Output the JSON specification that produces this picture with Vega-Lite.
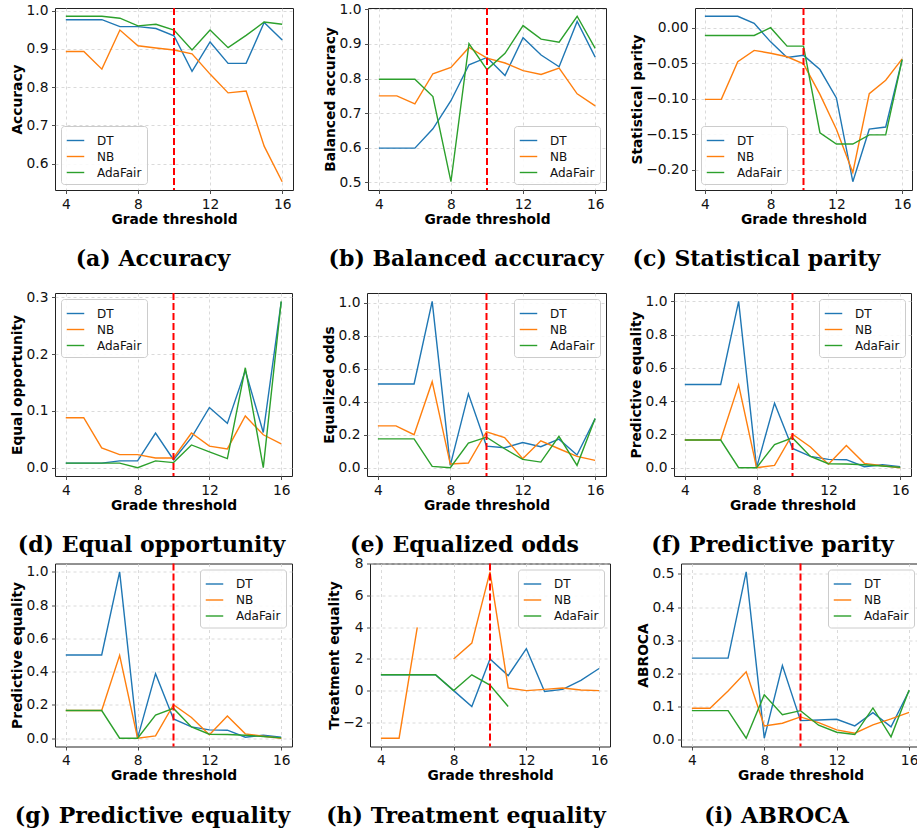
{
"$schema":"https://vega.github.io/schema/vega-lite/v6.json",
"padding":{"left":10,"top":1,"right":0,"bottom":0},
"background":"white",
"config":{
 "view":{"stroke":"#222","strokeWidth":1},
 "axis":{"labelFont":"DejaVu Sans","labelFontSize":13.8,"labelColor":"#111","titleFont":"DejaVu Sans","titleFontSize":13.8,"titleFontWeight":"bold","titleColor":"#000","domain":false,"tickColor":"#222","tickSize":3.5,"tickWidth":0.8,"gridColor":"#d0d0d0","gridDash":[3,3],"gridWidth":0.8,"labelPadding":3.5,"titlePadding":1.5},
 "legend":{"labelFont":"DejaVu Sans","labelFontSize":12,"labelColor":"#111","symbolType":"stroke","symbolStrokeWidth":1.5,"symbolSize":306,"labelOffset":12,"padding":5,"rowPadding":0,"strokeColor":"#cccccc","fillColor":"rgba(255,255,255,0.85)","cornerRadius":3,"offset":6,"title":null},
 "title":{"font":"DejaVu Serif","fontSize":22,"fontWeight":"bold","color":"#000","orient":"bottom","frame":"group","offset":23,"baseline":"alphabetic","anchor":"middle"},
 "line":{"strokeWidth":1.4}
},
"data":{"values":[
{"m":"acc","g":4,"DT":0.976,"NB":0.893,"AdaFair":0.985},
{"m":"acc","g":5,"DT":0.976,"NB":0.893,"AdaFair":0.985},
{"m":"acc","g":6,"DT":0.976,"NB":0.847,"AdaFair":0.985},
{"m":"acc","g":7,"DT":0.958,"NB":0.949,"AdaFair":0.980},
{"m":"acc","g":8,"DT":0.958,"NB":0.908,"AdaFair":0.960},
{"m":"acc","g":9,"DT":0.953,"NB":0.902,"AdaFair":0.964},
{"m":"acc","g":10,"DT":0.934,"NB":0.897,"AdaFair":0.949},
{"m":"acc","g":11,"DT":0.841,"NB":0.887,"AdaFair":0.897},
{"m":"acc","g":12,"DT":0.918,"NB":0.834,"AdaFair":0.949},
{"m":"acc","g":13,"DT":0.862,"NB":0.785,"AdaFair":0.903},
{"m":"acc","g":14,"DT":0.862,"NB":0.790,"AdaFair":0.935},
{"m":"acc","g":15,"DT":0.969,"NB":0.646,"AdaFair":0.970},
{"m":"acc","g":16,"DT":0.923,"NB":0.553,"AdaFair":0.964},
{"m":"bacc","g":4,"DT":0.599,"NB":0.750,"AdaFair":0.798},
{"m":"bacc","g":5,"DT":0.599,"NB":0.750,"AdaFair":0.798},
{"m":"bacc","g":6,"DT":0.599,"NB":0.727,"AdaFair":0.798},
{"m":"bacc","g":7,"DT":0.655,"NB":0.814,"AdaFair":0.748},
{"m":"bacc","g":8,"DT":0.736,"NB":0.832,"AdaFair":0.502},
{"m":"bacc","g":9,"DT":0.840,"NB":0.890,"AdaFair":0.901},
{"m":"bacc","g":10,"DT":0.861,"NB":0.859,"AdaFair":0.826},
{"m":"bacc","g":11,"DT":0.809,"NB":0.845,"AdaFair":0.873},
{"m":"bacc","g":12,"DT":0.918,"NB":0.823,"AdaFair":0.953},
{"m":"bacc","g":13,"DT":0.868,"NB":0.812,"AdaFair":0.914},
{"m":"bacc","g":14,"DT":0.834,"NB":0.830,"AdaFair":0.905},
{"m":"bacc","g":15,"DT":0.965,"NB":0.756,"AdaFair":0.980},
{"m":"bacc","g":16,"DT":0.862,"NB":0.721,"AdaFair":0.887},
{"m":"sp","g":4,"DT":0.016,"NB":-0.101,"AdaFair":-0.011},
{"m":"sp","g":5,"DT":0.016,"NB":-0.101,"AdaFair":-0.011},
{"m":"sp","g":6,"DT":0.016,"NB":-0.048,"AdaFair":-0.011},
{"m":"sp","g":7,"DT":0.006,"NB":-0.032,"AdaFair":-0.011},
{"m":"sp","g":8,"DT":-0.020,"NB":-0.036,"AdaFair":0.000},
{"m":"sp","g":9,"DT":-0.042,"NB":-0.041,"AdaFair":-0.026},
{"m":"sp","g":10,"DT":-0.039,"NB":-0.051,"AdaFair":-0.026},
{"m":"sp","g":11,"DT":-0.059,"NB":-0.094,"AdaFair":-0.148},
{"m":"sp","g":12,"DT":-0.099,"NB":-0.143,"AdaFair":-0.164},
{"m":"sp","g":13,"DT":-0.217,"NB":-0.204,"AdaFair":-0.164},
{"m":"sp","g":14,"DT":-0.143,"NB":-0.093,"AdaFair":-0.151},
{"m":"sp","g":15,"DT":-0.140,"NB":-0.074,"AdaFair":-0.151},
{"m":"sp","g":16,"DT":-0.045,"NB":-0.044,"AdaFair":-0.045},
{"m":"eo","g":4,"DT":0.008,"NB":0.088,"AdaFair":0.008},
{"m":"eo","g":5,"DT":0.008,"NB":0.088,"AdaFair":0.008},
{"m":"eo","g":6,"DT":0.008,"NB":0.035,"AdaFair":0.008},
{"m":"eo","g":7,"DT":0.012,"NB":0.023,"AdaFair":0.008},
{"m":"eo","g":8,"DT":0.012,"NB":0.023,"AdaFair":0.000},
{"m":"eo","g":9,"DT":0.061,"NB":0.017,"AdaFair":0.012},
{"m":"eo","g":10,"DT":0.014,"NB":0.017,"AdaFair":0.009},
{"m":"eo","g":11,"DT":0.053,"NB":0.061,"AdaFair":0.040},
{"m":"eo","g":12,"DT":0.106,"NB":0.038,"AdaFair":0.028},
{"m":"eo","g":13,"DT":0.078,"NB":0.033,"AdaFair":0.016},
{"m":"eo","g":14,"DT":0.171,"NB":0.091,"AdaFair":0.176},
{"m":"eo","g":15,"DT":0.062,"NB":0.058,"AdaFair":0.000},
{"m":"eo","g":16,"DT":0.292,"NB":0.042,"AdaFair":0.293},
{"m":"eodds","g":4,"DT":0.508,"NB":0.254,"AdaFair":0.175},
{"m":"eodds","g":5,"DT":0.508,"NB":0.254,"AdaFair":0.175},
{"m":"eodds","g":6,"DT":0.508,"NB":0.200,"AdaFair":0.175},
{"m":"eodds","g":7,"DT":1.010,"NB":0.522,"AdaFair":0.008},
{"m":"eodds","g":8,"DT":0.014,"NB":0.022,"AdaFair":0.000},
{"m":"eodds","g":9,"DT":0.448,"NB":0.028,"AdaFair":0.149},
{"m":"eodds","g":10,"DT":0.131,"NB":0.218,"AdaFair":0.185},
{"m":"eodds","g":11,"DT":0.121,"NB":0.183,"AdaFair":0.115},
{"m":"eodds","g":12,"DT":0.153,"NB":0.054,"AdaFair":0.050},
{"m":"eodds","g":13,"DT":0.127,"NB":0.163,"AdaFair":0.034},
{"m":"eodds","g":14,"DT":0.173,"NB":0.115,"AdaFair":0.190},
{"m":"eodds","g":15,"DT":0.077,"NB":0.069,"AdaFair":0.014},
{"m":"eodds","g":16,"DT":0.298,"NB":0.044,"AdaFair":0.298},
{"m":"pp","g":4,"DT":0.5,"NB":0.166,"AdaFair":0.166},
{"m":"pp","g":5,"DT":0.5,"NB":0.166,"AdaFair":0.166},
{"m":"pp","g":6,"DT":0.5,"NB":0.166,"AdaFair":0.166},
{"m":"pp","g":7,"DT":1.0,"NB":0.498,"AdaFair":0.0},
{"m":"pp","g":8,"DT":0.0,"NB":0.0,"AdaFair":0.0},
{"m":"pp","g":9,"DT":0.388,"NB":0.014,"AdaFair":0.139},
{"m":"pp","g":10,"DT":0.116,"NB":0.201,"AdaFair":0.179},
{"m":"pp","g":11,"DT":0.068,"NB":0.124,"AdaFair":0.068},
{"m":"pp","g":12,"DT":0.050,"NB":0.020,"AdaFair":0.024},
{"m":"pp","g":13,"DT":0.048,"NB":0.133,"AdaFair":0.022},
{"m":"pp","g":14,"DT":0.006,"NB":0.026,"AdaFair":0.018},
{"m":"pp","g":15,"DT":0.018,"NB":0.012,"AdaFair":0.010},
{"m":"pp","g":16,"DT":0.006,"NB":0.000,"AdaFair":0.002},
{"m":"pe","g":4,"DT":0.5,"NB":0.166,"AdaFair":0.166},
{"m":"pe","g":5,"DT":0.5,"NB":0.166,"AdaFair":0.166},
{"m":"pe","g":6,"DT":0.5,"NB":0.166,"AdaFair":0.166},
{"m":"pe","g":7,"DT":1.0,"NB":0.498,"AdaFair":0.0},
{"m":"pe","g":8,"DT":0.0,"NB":0.0,"AdaFair":0.0},
{"m":"pe","g":9,"DT":0.388,"NB":0.014,"AdaFair":0.139},
{"m":"pe","g":10,"DT":0.116,"NB":0.201,"AdaFair":0.179},
{"m":"pe","g":11,"DT":0.068,"NB":0.124,"AdaFair":0.068},
{"m":"pe","g":12,"DT":0.050,"NB":0.020,"AdaFair":0.024},
{"m":"pe","g":13,"DT":0.048,"NB":0.133,"AdaFair":0.022},
{"m":"pe","g":14,"DT":0.006,"NB":0.026,"AdaFair":0.018},
{"m":"pe","g":15,"DT":0.018,"NB":0.012,"AdaFair":0.010},
{"m":"pe","g":16,"DT":0.006,"NB":0.000,"AdaFair":0.002},
{"m":"te","g":4,"DT":1,"NB":-3,"AdaFair":1},
{"m":"te","g":5,"DT":1,"NB":-3,"AdaFair":1},
{"m":"te","g":6,"DT":1,"NB":4,"AdaFair":1},
{"m":"te","g":7,"DT":1,"NB":null,"AdaFair":1},
{"m":"te","g":8,"DT":0,"NB":2,"AdaFair":0},
{"m":"te","g":9,"DT":-1,"NB":3,"AdaFair":1},
{"m":"te","g":10,"DT":2,"NB":7.5,"AdaFair":0.35},
{"m":"te","g":11,"DT":0.95,"NB":0.17,"AdaFair":-1},
{"m":"te","g":12,"DT":2.65,"NB":0,"AdaFair":null},
{"m":"te","g":13,"DT":-0.05,"NB":0.08,"AdaFair":null},
{"m":"te","g":14,"DT":0.08,"NB":0.17,"AdaFair":null},
{"m":"te","g":15,"DT":0.65,"NB":0.04,"AdaFair":null},
{"m":"te","g":16,"DT":1.4,"NB":0,"AdaFair":null},
{"m":"ab","g":4,"DT":0.246,"NB":0.095,"AdaFair":0.088},
{"m":"ab","g":5,"DT":0.246,"NB":0.095,"AdaFair":0.088},
{"m":"ab","g":6,"DT":0.246,"NB":0.147,"AdaFair":0.088},
{"m":"ab","g":7,"DT":0.506,"NB":0.205,"AdaFair":0.005},
{"m":"ab","g":8,"DT":0.005,"NB":0.042,"AdaFair":0.136},
{"m":"ab","g":9,"DT":0.224,"NB":0.050,"AdaFair":0.076},
{"m":"ab","g":10,"DT":0.058,"NB":0.069,"AdaFair":0.088},
{"m":"ab","g":11,"DT":0.060,"NB":0.052,"AdaFair":0.044},
{"m":"ab","g":12,"DT":0.062,"NB":0.030,"AdaFair":0.023},
{"m":"ab","g":13,"DT":0.042,"NB":0.020,"AdaFair":0.016},
{"m":"ab","g":14,"DT":0.082,"NB":0.045,"AdaFair":0.096},
{"m":"ab","g":15,"DT":0.039,"NB":0.063,"AdaFair":0.009},
{"m":"ab","g":16,"DT":0.148,"NB":0.083,"AdaFair":0.150}
]},
"bounds":"flush",
"spacing":285,
"resolve":{"scale":{"x":"independent","y":"independent","color":"independent"},"legend":{"color":"independent"}},
"vconcat":[
{"hconcat":[
 {"width":238,"height":182,"title":{"text":"(a) Accuracy","dx":-21},
  "layer":[
   {"transform":[{"filter":"datum.m==='acc'"},{"fold":["DT","NB","AdaFair"],"as":["model","value"]}],
    "mark":{"type":"line"},
    "encoding":{
     "x":{"field":"g","type":"quantitative","scale":{"domain":[3.4,16.6],"nice":false,"zero":false},"axis":{"values":[4,6,8,10,12,14,16],"title":"Grade threshold"}},
     "y":{"field":"value","type":"quantitative","scale":{"domain":[0.5314,1.0066],"nice":false,"zero":false},"axis":{"values":[0.6,0.7,0.8,0.9,1.0],"format":".1f","title":"Accuracy"}},
     "color":{"field":"model","type":"nominal","scale":{"domain":["DT","NB","AdaFair"],"range":["#1f77b4","#ff7f0e","#2ca02c"]},"legend":{"orient":"bottom-left"}}}},
   {"data":{"values":[{}]},"mark":{"type":"rule","color":"#ff0000","strokeWidth":2,"strokeDash":[7,3]},"encoding":{"x":{"datum":10}}}
  ]},
 {"hconcat":[
  {"width":238,"height":182,"title":{"text":"(b) Balanced accuracy","dx":-21},
   "layer":[
    {"transform":[{"filter":"datum.m==='bacc'"},{"fold":["DT","NB","AdaFair"],"as":["model","value"]}],
     "mark":{"type":"line"},
     "encoding":{
      "x":{"field":"g","type":"quantitative","scale":{"domain":[3.4,16.6],"nice":false,"zero":false},"axis":{"values":[4,6,8,10,12,14,16],"title":"Grade threshold"}},
      "y":{"field":"value","type":"quantitative","scale":{"domain":[0.4781,1.0039],"nice":false,"zero":false},"axis":{"values":[0.5,0.6,0.7,0.8,0.9,1.0],"format":".1f","title":"Balanced accuracy"}},
      "color":{"field":"model","type":"nominal","scale":{"domain":["DT","NB","AdaFair"],"range":["#1f77b4","#ff7f0e","#2ca02c"]},"legend":{"orient":"bottom-right"}}}},
    {"data":{"values":[{}]},"mark":{"type":"rule","color":"#ff0000","strokeWidth":2,"strokeDash":[7,3]},"encoding":{"x":{"datum":10}}}
   ]},
  {"width":217,"height":182,"title":{"text":"(c) Statistical parity","dx":-47},
   "layer":[
    {"transform":[{"filter":"datum.m==='sp'"},{"fold":["DT","NB","AdaFair"],"as":["model","value"]}],
     "mark":{"type":"line"},
     "encoding":{
      "x":{"field":"g","type":"quantitative","scale":{"domain":[3.4,16.6],"nice":false,"zero":false},"axis":{"values":[4,6,8,10,12,14,16],"title":"Grade threshold"}},
      "y":{"field":"value","type":"quantitative","scale":{"domain":[-0.2287,0.0277],"nice":false,"zero":false},"axis":{"values":[-0.2,-0.15,-0.1,-0.05,0],"format":".2f","title":"Statistical parity"}},
      "color":{"field":"model","type":"nominal","scale":{"domain":["DT","NB","AdaFair"],"range":["#1f77b4","#ff7f0e","#2ca02c"]},"legend":{"orient":"bottom-left"}}}},
    {"data":{"values":[{}]},"mark":{"type":"rule","color":"#ff0000","strokeWidth":2,"strokeDash":[7,3]},"encoding":{"x":{"datum":10}}}
   ]}
 ],"spacing":89,"bounds":"flush","resolve":{"scale":{"x":"independent","y":"independent","color":"independent"},"legend":{"color":"independent"}}}
],"spacing":75,"bounds":"flush","resolve":{"scale":{"x":"independent","y":"independent","color":"independent"},"legend":{"color":"independent"}}},
{"vconcat":[
{"hconcat":[
 {"width":237,"height":183,"title":{"text":"(d) Equal opportunity","dx":-22},
  "layer":[
   {"transform":[{"filter":"datum.m==='eo'"},{"fold":["DT","NB","AdaFair"],"as":["model","value"]}],
    "mark":{"type":"line"},
    "encoding":{
     "x":{"field":"g","type":"quantitative","scale":{"domain":[3.4,16.6],"nice":false,"zero":false},"axis":{"values":[4,6,8,10,12,14,16],"title":"Grade threshold"}},
     "y":{"field":"value","type":"quantitative","scale":{"domain":[-0.01465,0.30765],"nice":false,"zero":false},"axis":{"values":[0,0.1,0.2,0.3],"format":".1f","title":"Equal opportunity"}},
     "color":{"field":"model","type":"nominal","scale":{"domain":["DT","NB","AdaFair"],"range":["#1f77b4","#ff7f0e","#2ca02c"]},"legend":{"orient":"top-left"}}}},
   {"data":{"values":[{}]},"mark":{"type":"rule","color":"#ff0000","strokeWidth":2,"strokeDash":[7,3]},"encoding":{"x":{"datum":10}}}
  ]},
 {"hconcat":[
  {"width":239,"height":183,"title":{"text":"(e) Equalized odds","dx":-22},
   "layer":[
    {"transform":[{"filter":"datum.m==='eodds'"},{"fold":["DT","NB","AdaFair"],"as":["model","value"]}],
     "mark":{"type":"line"},
     "encoding":{
      "x":{"field":"g","type":"quantitative","scale":{"domain":[3.4,16.6],"nice":false,"zero":false},"axis":{"values":[4,6,8,10,12,14,16],"title":"Grade threshold"}},
      "y":{"field":"value","type":"quantitative","scale":{"domain":[-0.0505,1.0605],"nice":false,"zero":false},"axis":{"values":[0,0.2,0.4,0.6,0.8,1.0],"format":".1f","title":"Equalized odds"}},
      "color":{"field":"model","type":"nominal","scale":{"domain":["DT","NB","AdaFair"],"range":["#1f77b4","#ff7f0e","#2ca02c"]},"legend":{"orient":"top-right"}}}},
    {"data":{"values":[{}]},"mark":{"type":"rule","color":"#ff0000","strokeWidth":2,"strokeDash":[7,3]},"encoding":{"x":{"datum":10}}}
   ]},
  {"width":237,"height":183,"title":{"text":"(f) Predictive parity","dx":-20},
   "layer":[
    {"transform":[{"filter":"datum.m==='pp'"},{"fold":["DT","NB","AdaFair"],"as":["model","value"]}],
     "mark":{"type":"line"},
     "encoding":{
      "x":{"field":"g","type":"quantitative","scale":{"domain":[3.4,16.6],"nice":false,"zero":false},"axis":{"values":[4,6,8,10,12,14,16],"title":"Grade threshold"}},
      "y":{"field":"value","type":"quantitative","scale":{"domain":[-0.05,1.05],"nice":false,"zero":false},"axis":{"values":[0,0.2,0.4,0.6,0.8,1.0],"format":".1f","title":"Predictive equality"}},
      "color":{"field":"model","type":"nominal","scale":{"domain":["DT","NB","AdaFair"],"range":["#1f77b4","#ff7f0e","#2ca02c"]},"legend":{"orient":"top-right"}}}},
    {"data":{"values":[{}]},"mark":{"type":"rule","color":"#ff0000","strokeWidth":2,"strokeDash":[7,3]},"encoding":{"x":{"datum":10}}}
   ]}
 ],"spacing":68,"bounds":"flush","resolve":{"scale":{"x":"independent","y":"independent","color":"independent"},"legend":{"color":"independent"}}}
],"spacing":75,"bounds":"flush","resolve":{"scale":{"x":"independent","y":"independent","color":"independent"},"legend":{"color":"independent"}}},
{"hconcat":[
 {"width":237,"height":183,"title":{"text":"(g) Predictive equality","dx":-21},
  "layer":[
   {"transform":[{"filter":"datum.m==='pe'"},{"fold":["DT","NB","AdaFair"],"as":["model","value"]}],
    "mark":{"type":"line"},
    "encoding":{
     "x":{"field":"g","type":"quantitative","scale":{"domain":[3.4,16.6],"nice":false,"zero":false},"axis":{"values":[4,6,8,10,12,14,16],"title":"Grade threshold"}},
     "y":{"field":"value","type":"quantitative","scale":{"domain":[-0.05,1.05],"nice":false,"zero":false},"axis":{"values":[0,0.2,0.4,0.6,0.8,1.0],"format":".1f","title":"Predictive equality"}},
     "color":{"field":"model","type":"nominal","scale":{"domain":["DT","NB","AdaFair"],"range":["#1f77b4","#ff7f0e","#2ca02c"]},"legend":{"orient":"top-right"}}}},
   {"data":{"values":[{}]},"mark":{"type":"rule","color":"#ff0000","strokeWidth":2,"strokeDash":[7,3]},"encoding":{"x":{"datum":10}}}
  ]},
 {"hconcat":[
  {"width":240,"height":183,"title":{"text":"(h) Treatment equality","dx":-24},
   "layer":[
    {"transform":[{"filter":"datum.m==='te'"},{"fold":["DT","NB","AdaFair"],"as":["model","value"]}],
     "mark":{"type":"line"},
     "encoding":{
      "x":{"field":"g","type":"quantitative","scale":{"domain":[3.4,16.6],"nice":false,"zero":false},"axis":{"values":[4,6,8,10,12,14,16],"title":"Grade threshold"}},
      "y":{"field":"value","type":"quantitative","scale":{"domain":[-3.525,8.025],"nice":false,"zero":false},"axis":{"values":[-2,0,2,4,6,8],"format":"d","title":"Treatment equality"}},
      "color":{"field":"model","type":"nominal","scale":{"domain":["DT","NB","AdaFair"],"range":["#1f77b4","#ff7f0e","#2ca02c"]},"legend":{"orient":"top-right"}}}},
    {"data":{"values":[{}]},"mark":{"type":"rule","color":"#ff0000","strokeWidth":2,"strokeDash":[7,3]},"encoding":{"x":{"datum":10}}}
   ]},
  {"width":239,"height":183,"title":{"text":"(i) ABROCA","dx":-24},
   "layer":[
    {"transform":[{"filter":"datum.m==='ab'"},{"fold":["DT","NB","AdaFair"],"as":["model","value"]}],
     "mark":{"type":"line"},
     "encoding":{
      "x":{"field":"g","type":"quantitative","scale":{"domain":[3.4,16.6],"nice":false,"zero":false},"axis":{"values":[4,6,8,10,12,14,16],"title":"Grade threshold"}},
      "y":{"field":"value","type":"quantitative","scale":{"domain":[-0.02,0.531],"nice":false,"zero":false},"axis":{"values":[0,0.1,0.2,0.3,0.4,0.5],"format":".1f","title":"ABROCA"}},
      "color":{"field":"model","type":"nominal","scale":{"domain":["DT","NB","AdaFair"],"range":["#1f77b4","#ff7f0e","#2ca02c"]},"legend":{"orient":"top-right"}}}},
    {"data":{"values":[{}]},"mark":{"type":"rule","color":"#ff0000","strokeWidth":2,"strokeDash":[7,3]},"encoding":{"x":{"datum":10}}}
   ]}
 ],"spacing":71,"bounds":"flush","resolve":{"scale":{"x":"independent","y":"independent","color":"independent"},"legend":{"color":"independent"}}}
],"spacing":78,"bounds":"flush","resolve":{"scale":{"x":"independent","y":"independent","color":"independent"},"legend":{"color":"independent"}}}
],"spacing":270.5,"bounds":"flush","resolve":{"scale":{"x":"independent","y":"independent","color":"independent"},"legend":{"color":"independent"}}}
]
}
